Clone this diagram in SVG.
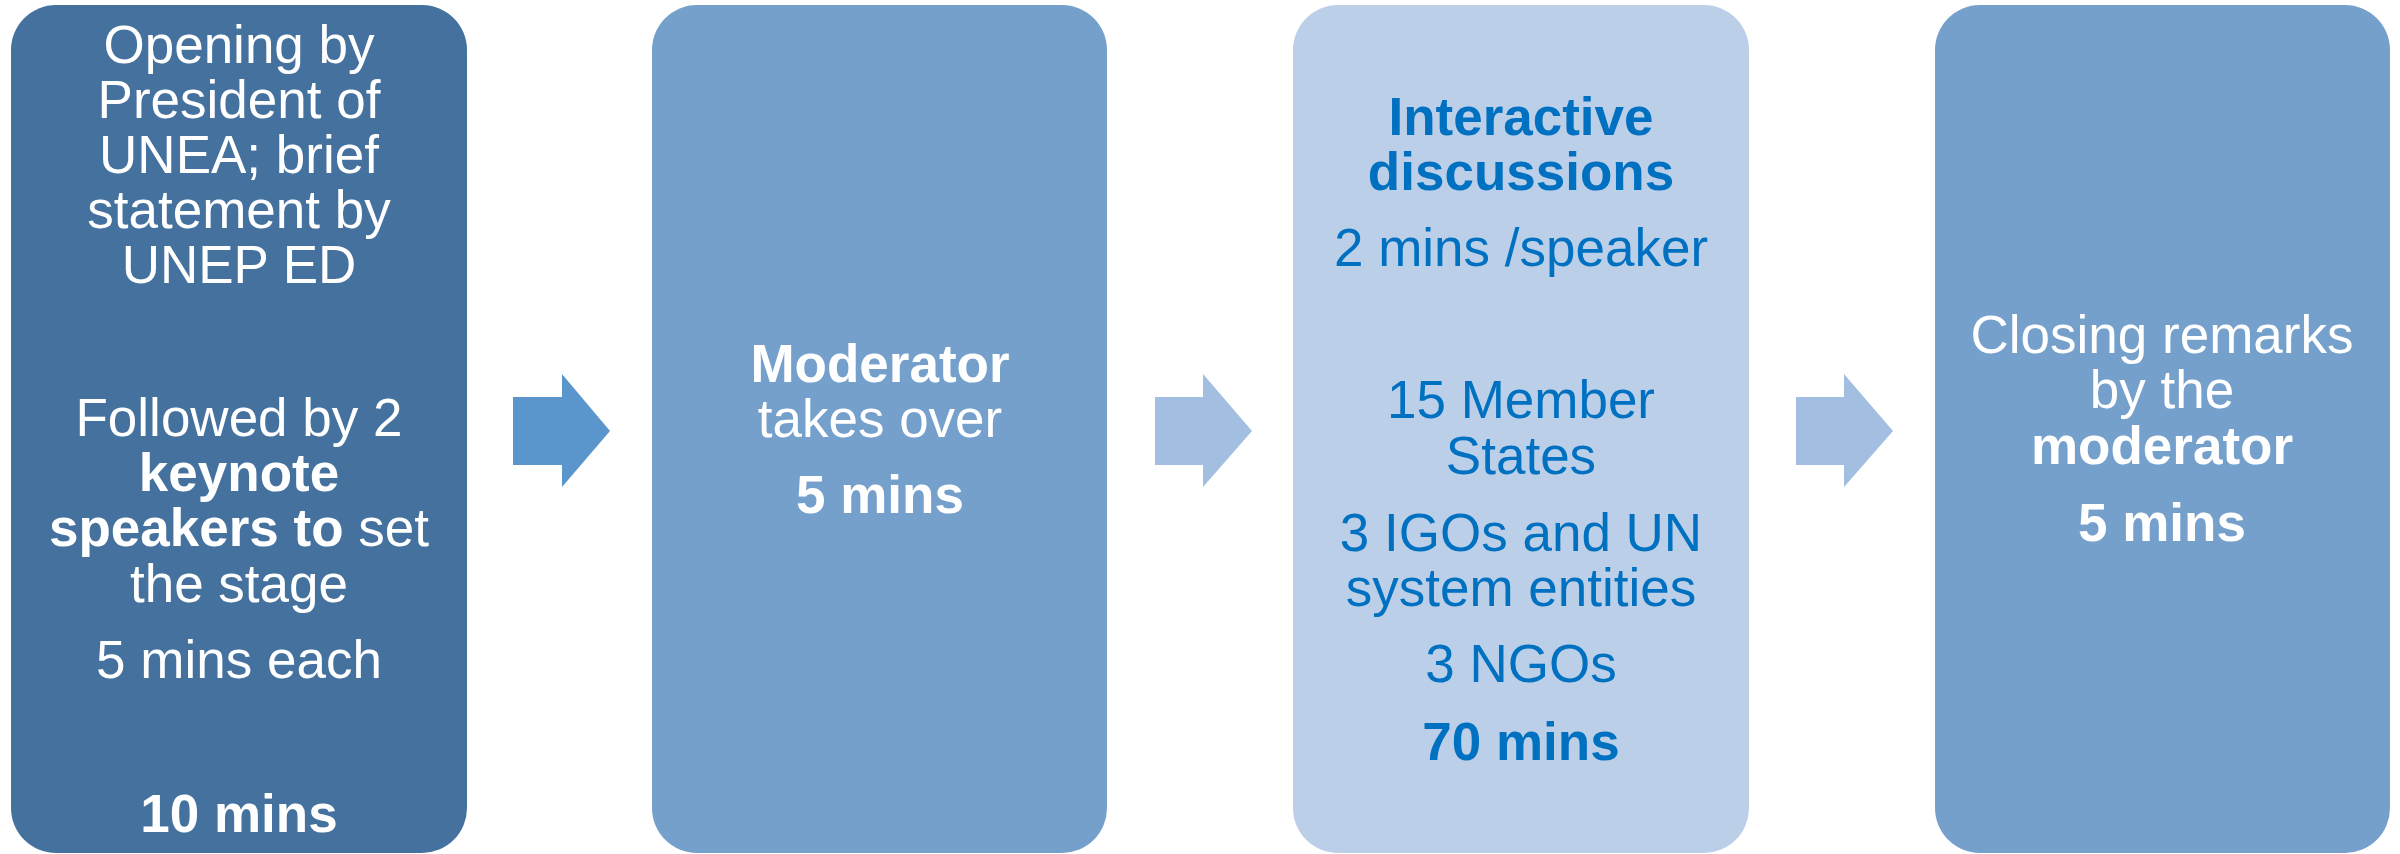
<svg xmlns="http://www.w3.org/2000/svg" width="2400" height="854" viewBox="0 0 2400 854">
<style>
  .t { font-family: "Liberation Sans", Arial, sans-serif; font-size: 53px; text-anchor: middle; }
  .w { fill: #FFFFFF; }
  .b { fill: #0070C0; }
  .bold { font-weight: bold; }
</style>
<rect width="2400" height="854" fill="#FFFFFF"/>
<g id="connectors">
  <polygon points="513,397 562,397 562,374 610,431 562,487 562,465 513,465" fill="#5A96CC"/>
  <polygon points="1155,397 1203,397 1203,374 1252,431 1203,487 1203,465 1155,465" fill="#A2BEE0"/>
  <polygon points="1796,397 1844,397 1844,374 1893,431 1844,487 1844,465 1796,465" fill="#A2BEE0"/>
</g>
<g id="node-opening">
  <rect x="11" y="5" width="456" height="848" rx="45" ry="45" fill="#44719E"/>
  <text class="t w" x="239" y="63">Opening by</text>
  <text class="t w" x="239" y="118">President of</text>
  <text class="t w" x="239" y="173">UNEA; brief</text>
  <text class="t w" x="239" y="228">statement by</text>
  <text class="t w" x="239" y="283">UNEP ED</text>
  <text class="t w" x="239" y="436">Followed by 2</text>
  <text class="t w bold" x="239" y="491">keynote</text>
  <text class="t w" x="239" y="546"><tspan class="bold">speakers to</tspan> set</text>
  <text class="t w" x="239" y="602">the stage</text>
  <text class="t w" x="239" y="678">5 mins each</text>
  <text class="t w bold" x="239" y="832">10 mins</text>
</g>
<g id="node-moderator">
  <rect x="652" y="5" width="455" height="848" rx="45" ry="45" fill="#75A0CC"/>
  <text class="t w bold" x="880" y="382">Moderator</text>
  <text class="t w" x="880" y="437">takes over</text>
  <text class="t w bold" x="880" y="513">5 mins</text>
</g>
<g id="node-interactive">
  <rect x="1293" y="5" width="456" height="848" rx="45" ry="45" fill="#BBCFE8"/>
  <text class="t b bold" x="1521" y="135">Interactive</text>
  <text class="t b bold" x="1521" y="190">discussions</text>
  <text class="t b" x="1521" y="266">2 mins /speaker</text>
  <text class="t b" x="1521" y="418">15 Member</text>
  <text class="t b" x="1521" y="474">States</text>
  <text class="t b" x="1521" y="551">3 IGOs and UN</text>
  <text class="t b" x="1521" y="606">system entities</text>
  <text class="t b" x="1521" y="682">3 NGOs</text>
  <text class="t b bold" x="1521" y="760">70 mins</text>
</g>
<g id="node-closing">
  <rect x="1935" y="5" width="455" height="848" rx="45" ry="45" fill="#75A0CC"/>
  <text class="t w" x="2162" y="353">Closing remarks</text>
  <text class="t w" x="2162" y="408">by the</text>
  <text class="t w bold" x="2162" y="464">moderator</text>
  <text class="t w bold" x="2162" y="541">5 mins</text>
</g>
</svg>
